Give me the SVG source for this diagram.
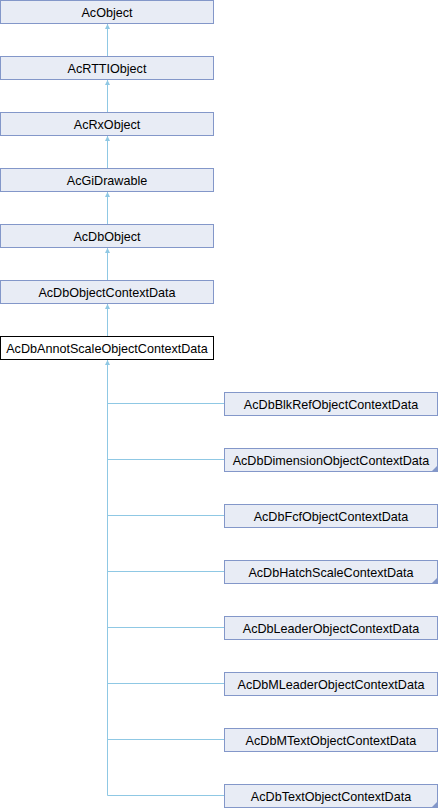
<svg xmlns="http://www.w3.org/2000/svg" width="438" height="808" viewBox="0 0 438 808">
<defs>
<style>
.n rect{fill:#E8ECF5;stroke:#8397C9;stroke-width:1}
.n.cur rect{fill:#FFFFFF;stroke:#000000}
.n text{font-family:"Liberation Sans",Arial,sans-serif;font-size:12.6px;fill:#000;text-anchor:middle}
.e{stroke:#8FC8E4;stroke-width:1;fill:none}
.c{fill:#8397C9}
</style>
<marker id="ah" viewBox="0 0 10 10" refX="10" refY="5" markerWidth="5" markerHeight="6" orient="auto" markerUnits="userSpaceOnUse"><path d="M0,0 L10,5 L0,10 z" fill="#8FC8E4"/></marker>
</defs>
<rect width="438" height="808" fill="#fff"/>
<g id="edges">
<path class="e" d="M107.5,56 V24" marker-end="url(#ah)"/>
<path class="e" d="M107.5,112 V80" marker-end="url(#ah)"/>
<path class="e" d="M107.5,168 V136" marker-end="url(#ah)"/>
<path class="e" d="M107.5,224 V192" marker-end="url(#ah)"/>
<path class="e" d="M107.5,280 V248" marker-end="url(#ah)"/>
<path class="e" d="M107.5,336 V304" marker-end="url(#ah)"/>
<path class="e" d="M107.5,795.5 V360" marker-end="url(#ah)"/>
<path class="e" d="M107.5,403.5 H224"/>
<path class="e" d="M107.5,459.5 H224"/>
<path class="e" d="M107.5,515.5 H224"/>
<path class="e" d="M107.5,571.5 H224"/>
<path class="e" d="M107.5,627.5 H224"/>
<path class="e" d="M107.5,683.5 H224"/>
<path class="e" d="M107.5,739.5 H224"/>
<path class="e" d="M107.5,795.5 H224"/>
</g>
<g id="AcObject" class="n"><rect x="0.5" y="0.5" width="213" height="23"/><text x="107" y="16.5">AcObject</text></g>
<g id="AcRTTIObject" class="n"><rect x="0.5" y="56.5" width="213" height="23"/><text x="107" y="72.5">AcRTTIObject</text></g>
<g id="AcRxObject" class="n"><rect x="0.5" y="112.5" width="213" height="23"/><text x="107" y="128.5">AcRxObject</text></g>
<g id="AcGiDrawable" class="n"><rect x="0.5" y="168.5" width="213" height="23"/><text x="107" y="184.5">AcGiDrawable</text></g>
<g id="AcDbObject" class="n"><rect x="0.5" y="224.5" width="213" height="23"/><text x="107" y="240.5">AcDbObject</text></g>
<g id="AcDbObjectContextData" class="n"><rect x="0.5" y="280.5" width="213" height="23"/><text x="107" y="296.5">AcDbObjectContextData</text></g>
<g id="AcDbAnnotScaleObjectContextData" class="n cur"><rect x="0.5" y="336.5" width="213" height="23"/><text x="107" y="352.5">AcDbAnnotScaleObjectContextData</text></g>
<g id="AcDbBlkRefObjectContextData" class="n"><rect x="224.5" y="392.5" width="213" height="23"/><text x="331" y="408.5">AcDbBlkRefObjectContextData</text></g>
<g id="AcDbDimensionObjectContextData" class="n"><rect x="224.5" y="448.5" width="213" height="23"/><text x="331" y="464.5">AcDbDimensionObjectContextData</text><path class="c" d="M437,466 V471 H432 z"/></g>
<g id="AcDbFcfObjectContextData" class="n"><rect x="224.5" y="504.5" width="213" height="23"/><text x="331" y="520.5">AcDbFcfObjectContextData</text></g>
<g id="AcDbHatchScaleContextData" class="n"><rect x="224.5" y="560.5" width="213" height="23"/><text x="331" y="576.5">AcDbHatchScaleContextData</text><path class="c" d="M437,578 V583 H432 z"/></g>
<g id="AcDbLeaderObjectContextData" class="n"><rect x="224.5" y="616.5" width="213" height="23"/><text x="331" y="632.5">AcDbLeaderObjectContextData</text></g>
<g id="AcDbMLeaderObjectContextData" class="n"><rect x="224.5" y="672.5" width="213" height="23"/><text x="331" y="688.5">AcDbMLeaderObjectContextData</text></g>
<g id="AcDbMTextObjectContextData" class="n"><rect x="224.5" y="728.5" width="213" height="23"/><text x="331" y="744.5">AcDbMTextObjectContextData</text></g>
<g id="AcDbTextObjectContextData" class="n"><rect x="224.5" y="784.5" width="213" height="23"/><text x="331" y="800.5">AcDbTextObjectContextData</text><path class="c" d="M437,802 V807 H432 z"/></g>
</svg>
